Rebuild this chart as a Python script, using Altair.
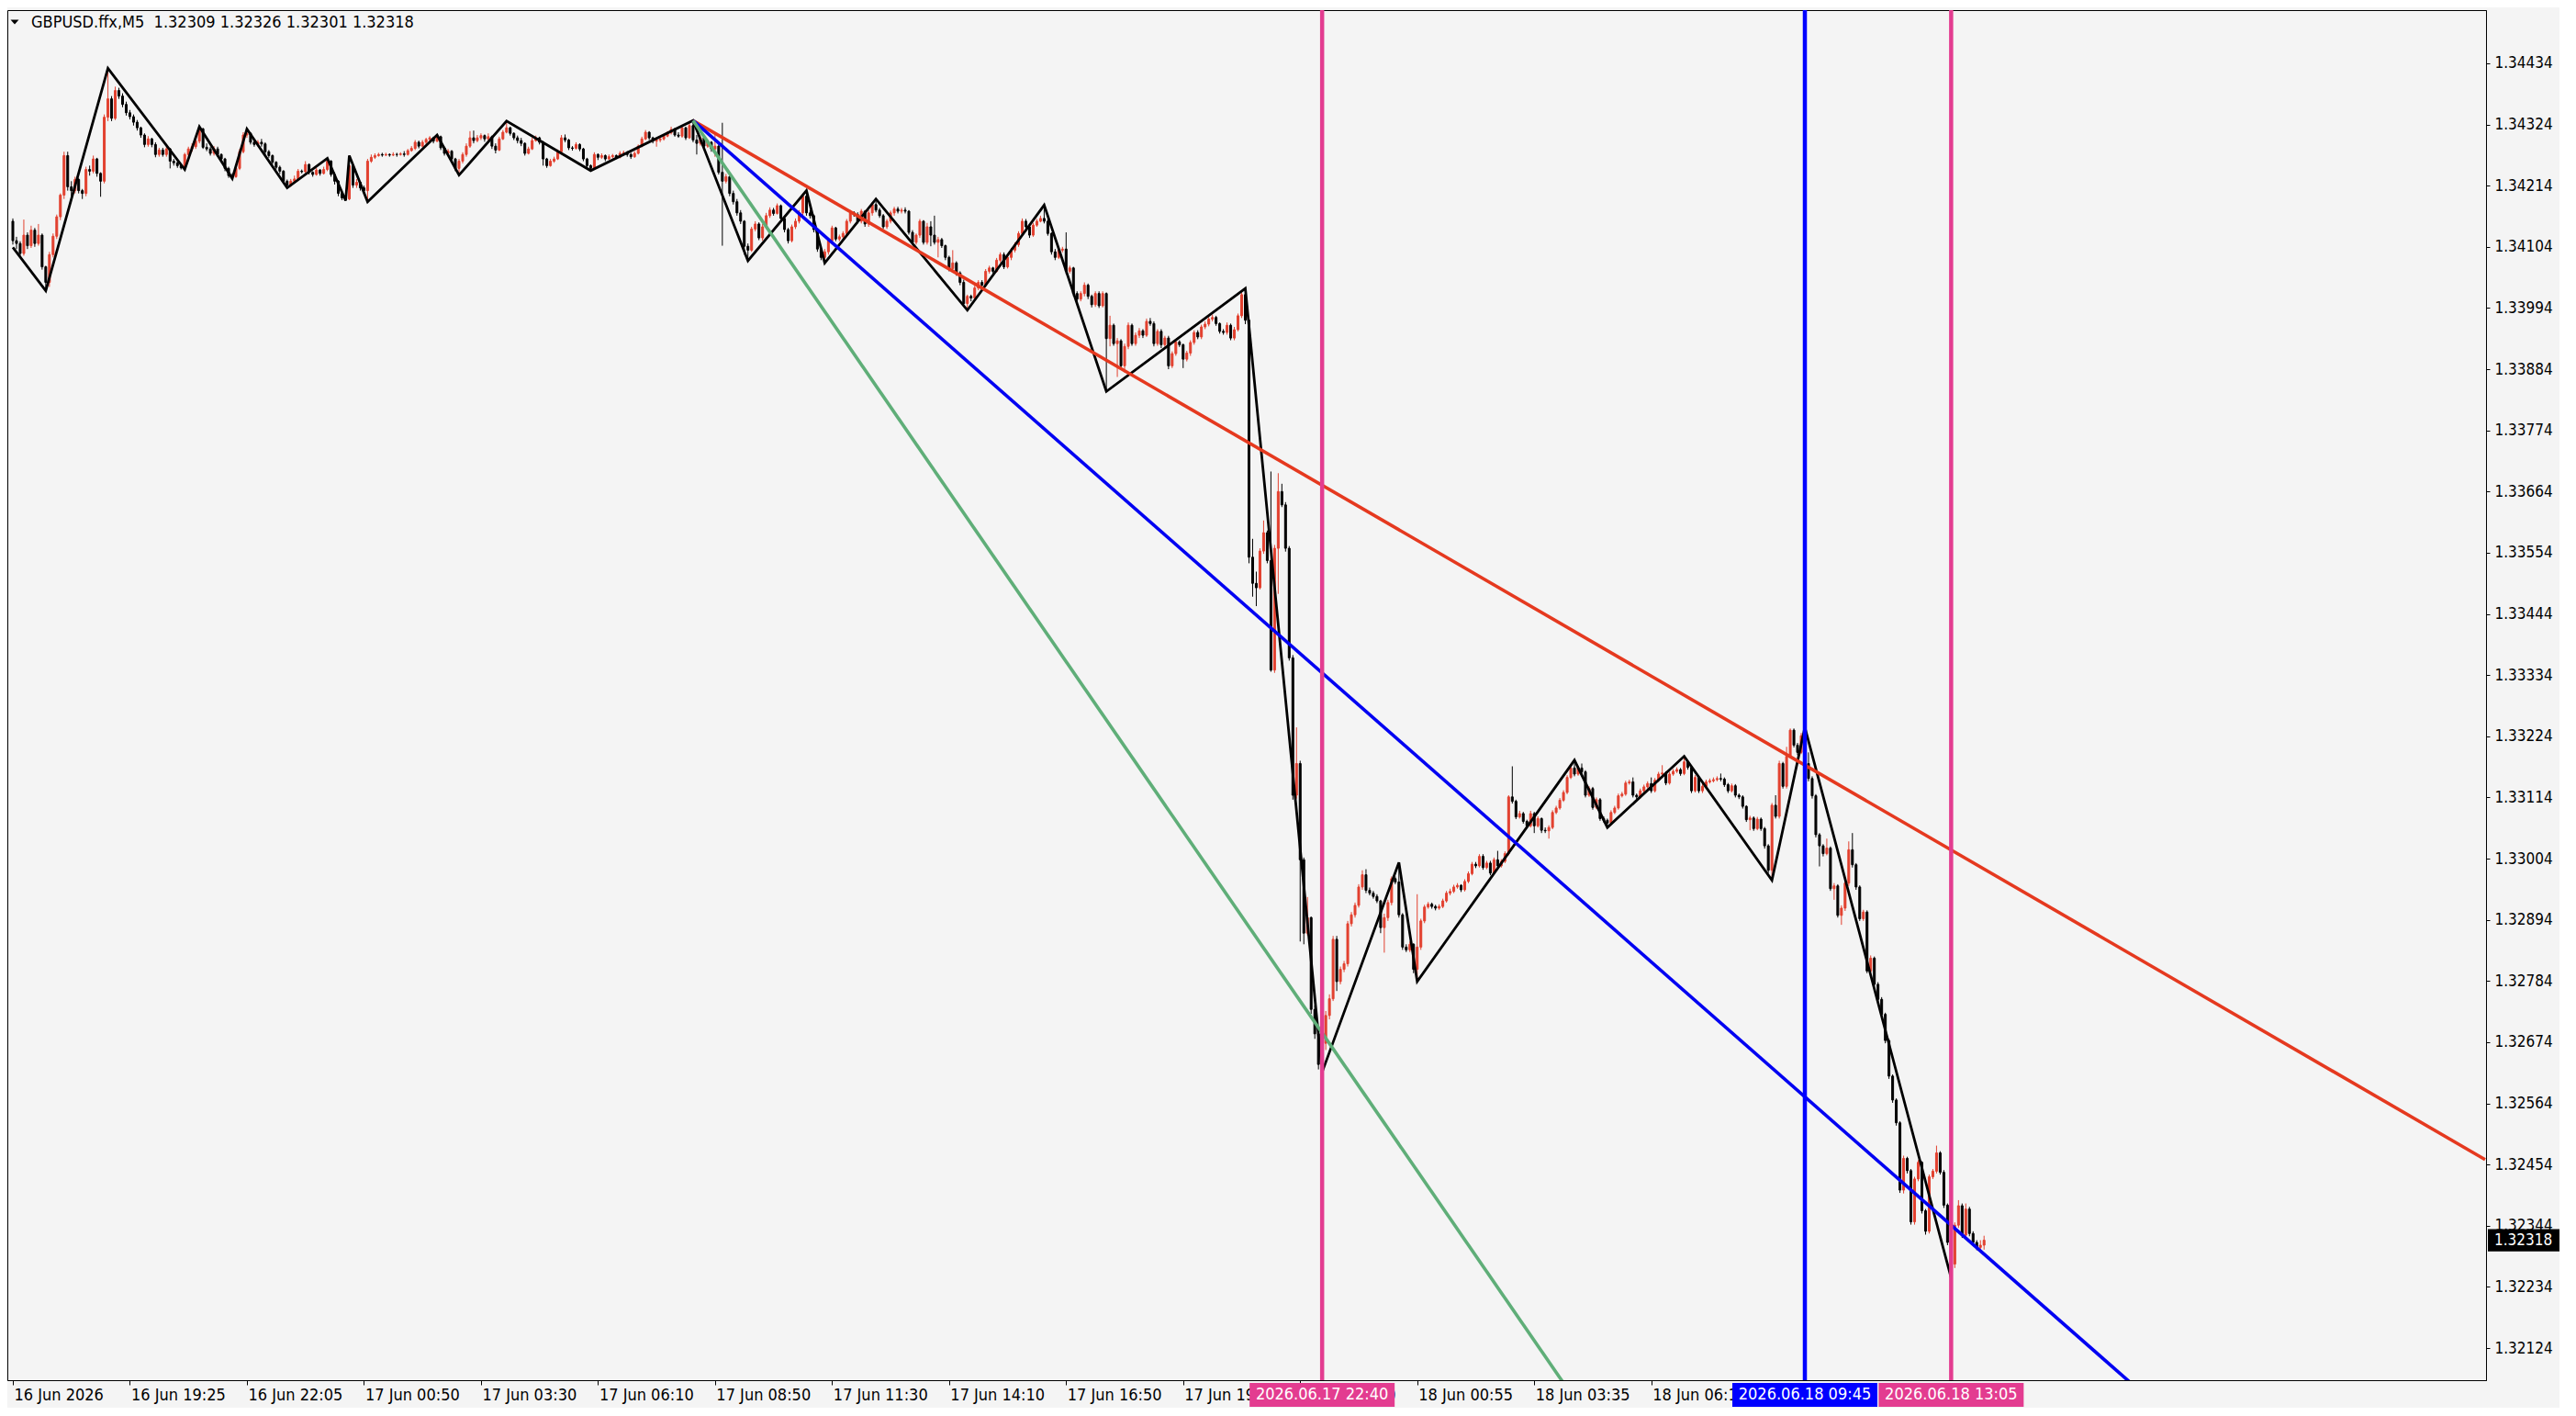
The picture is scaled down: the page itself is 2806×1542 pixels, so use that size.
import altair as alt
import pandas as pd

SYMBOL = "GBPUSD.ffx,M5"
BASE = 1.32000
POINT = 0.00001

FIRST_OPEN = 2150
CLOSES = [
2115,2110,2092,2125,2106,2134,2110,2125,2068,2040,
2090,2123,2158,2197,2268,2212,2205,2225,2205,2200,
2243,2240,2262,2236,2222,2337,2370,2335,2385,2375,
2360,2345,2338,2328,2318,2305,2288,2298,2288,2270,
2278,2270,2280,2258,2255,2250,2246,2270,2280,2284,
2294,2316,2283,2280,2272,2280,2270,2262,2245,2232,
2230,2245,2275,2305,2308,2292,2288,2292,2289,2275,
2268,2256,2247,2240,2222,2215,2222,2226,2240,2239,
2252,2238,2234,2242,2236,2243,2258,2234,2222,2200,
2192,2190,2250,2215,2220,2210,2205,2258,2265,2268,
2270,2269,2270,2269,2270,2270,2271,2270,2277,2281,
2292,2285,2292,2297,2300,2294,2302,2282,2272,2276,
2262,2245,2258,2270,2285,2300,2295,2300,2304,2298,
2302,2285,2278,2298,2310,2318,2308,2300,2295,2290,
2272,2280,2295,2300,2292,2262,2250,2258,2262,2275,
2300,2296,2282,2281,2288,2280,2262,2250,2245,2270,
2265,2268,2262,2266,2268,2265,2272,2273,2270,2266,
2272,2285,2298,2310,2300,2294,2296,2298,2303,2309,
2315,2305,2303,2318,2300,2322,2296,2290,2300,2285,
2292,2280,2285,2238,2222,2230,2200,2185,2165,2150,
2105,2098,2136,2145,2120,2140,2160,2170,2164,2178,
2155,2135,2115,2140,2150,2165,2195,2165,2160,2135,
2100,2085,2095,2115,2138,2118,2122,2128,2150,2165,
2162,2150,2168,2145,2165,2180,2170,2160,2140,2150,
2165,2172,2168,2170,2168,2130,2112,2125,2150,2112,
2140,2125,2112,2117,2106,2085,2065,2075,2057,2040,
2002,2015,2012,2030,2040,2035,2060,2066,2060,2080,
2090,2068,2085,2098,2108,2128,2150,2140,2125,2143,
2150,2155,2150,2128,2095,2085,2098,2100,2060,2066,
2020,2010,2020,2035,2015,2000,2020,1998,2020,1939,
1963,1930,1935,1890,1925,1963,1930,1945,1953,1945,
1970,1966,1930,1952,1928,1940,1890,1912,1933,1928,
1902,1913,1932,1950,1942,1960,1965,1974,1977,1966,
1952,1950,1963,1940,1955,1980,2018,1972,1546,1499,
1491,1557,1590,1540,1343,1562,1664,1640,1562,1365,
1118,1175,1002,870,898,733,689,634,672,722,
752,859,783,805,815,887,903,920,953,975,
947,942,936,928,880,898,925,968,962,903,
845,840,850,805,845,892,917,922,918,915,
918,928,942,945,953,956,948,963,977,994,
991,1008,988,996,978,1002,991,999,1013,1115,
1107,1079,1085,1071,1063,1085,1063,1076,1055,1054,
1060,1087,1095,1109,1123,1150,1167,1156,1167,1160,
1118,1130,1096,1110,1076,1073,1068,1087,1095,1117,
1120,1140,1142,1118,1115,1126,1133,1139,1126,1145,
1156,1158,1140,1156,1161,1164,1157,1178,1168,1126,
1150,1126,1134,1142,1144,1146,1148,1147,1137,1126,
1135,1118,1115,1098,1074,1077,1058,1075,1058,1027,
983,1100,1080,1175,1134,1188,1235,1208,1195,1225,
1175,1148,1117,1047,1027,1013,1023,950,955,902,
915,960,1020,993,953,896,908,802,825,778,
751,724,677,613,570,529,408,465,443,351,
428,458,371,334,432,442,475,440,381,314,
275,345,380,327,374,330,314,305,309,318,
]
HIGHS = [
2155,2122,2114,2153,2130,2142,2138,2145,2128,2070,
2095,2128,2162,2200,2275,2275,2222,2230,2228,2208,
2248,2250,2268,2264,2238,2342,2425,2375,2392,2390,
2380,2365,2350,2342,2332,2320,2308,2303,2300,2292,
2282,2282,2284,2282,2262,2258,2252,2273,2284,2290,
2298,2320,2318,2290,2284,2285,2284,2272,2264,2248,
2236,2250,2280,2310,2316,2310,2296,2296,2298,2292,
2278,2270,2258,2250,2242,2225,2226,2232,2244,2243,
2258,2254,2240,2246,2244,2248,2263,2260,2238,2224,
2204,2198,2268,2252,2226,2222,2214,2262,2270,2272,
2273,2273,2273,2272,2274,2273,2274,2276,2280,2285,
2296,2295,2296,2300,2303,2302,2305,2304,2284,2280,
2278,2264,2262,2274,2290,2312,2313,2305,2308,2306,
2308,2304,2290,2302,2314,2330,2320,2310,2304,2300,
2292,2284,2300,2304,2302,2294,2264,2262,2266,2279,
2305,2306,2298,2285,2292,2290,2282,2264,2252,2274,
2272,2272,2270,2270,2271,2270,2276,2277,2276,2273,
2276,2288,2302,2314,2312,2302,2299,2302,2306,2312,
2320,2318,2310,2322,2320,2326,2331,2305,2304,2302,
2296,2294,2310,2288,2327,2235,2232,2205,2190,2170,
2152,2110,2140,2150,2148,2145,2165,2175,2174,2182,
2180,2158,2138,2144,2155,2170,2200,2205,2170,2162,
2138,2104,2100,2120,2142,2140,2126,2132,2154,2170,
2168,2166,2172,2170,2170,2184,2190,2174,2163,2154,
2169,2176,2176,2174,2175,2170,2134,2128,2154,2152,
2147,2150,2160,2122,2120,2108,2088,2098,2078,2060,
2045,2018,2018,2034,2044,2044,2064,2070,2068,2084,
2094,2094,2090,2102,2112,2132,2155,2154,2144,2147,
2154,2160,2179,2154,2130,2100,2102,2104,2130,2070,
2068,2024,2024,2040,2038,2018,2024,2024,2024,2022,
1980,1966,1940,1938,1930,1968,1966,1950,1958,1956,
1975,1976,1970,1956,1956,1944,1944,1916,1938,1936,
1930,1917,1936,1954,1954,1964,1970,1978,1982,1980,
1968,1956,1968,1966,1960,1984,2022,2029,1975,1579,
1520,1562,1612,1594,1700,1568,1697,1678,1645,1566,
1370,1240,1180,1006,935,900,740,695,680,730,
760,865,865,810,820,892,908,925,958,983,
985,952,946,940,930,905,930,972,972,997,
906,850,855,852,940,896,921,926,925,921,
922,932,946,950,957,960,958,967,981,998,
998,1012,1012,1000,1000,1006,1018,1003,1017,1118,
1170,1110,1090,1088,1074,1090,1088,1080,1078,1060,
1064,1091,1099,1113,1127,1154,1171,1181,1171,1175,
1163,1134,1133,1114,1113,1080,1076,1091,1099,1121,
1124,1144,1146,1150,1121,1130,1137,1143,1150,1149,
1160,1172,1161,1160,1165,1168,1167,1188,1181,1171,
1154,1153,1138,1146,1148,1150,1152,1157,1150,1140,
1139,1138,1121,1118,1100,1081,1080,1079,1078,1061,
1030,1104,1118,1180,1178,1205,1238,1238,1212,1230,
1240,1195,1152,1120,1050,1030,1040,1026,960,958,
920,965,1035,1050,996,956,912,911,830,828,
782,755,727,680,616,573,532,470,468,446,
432,462,460,374,436,446,488,478,444,384,
318,350,390,384,384,378,334,318,318,326,
]
LOWS = [
2108,2100,2088,2088,2100,2102,2104,2106,2063,2025,
2032,2085,2118,2152,2190,2205,2195,2200,2200,2190,
2195,2232,2236,2230,2194,2218,2330,2330,2332,2370,
2355,2340,2333,2322,2313,2300,2283,2284,2283,2265,
2266,2266,2266,2245,2250,2246,2243,2243,2266,2275,
2280,2290,2280,2276,2268,2268,2266,2258,2240,2228,
2227,2228,2242,2272,2300,2288,2284,2285,2284,2270,
2264,2252,2243,2235,2218,2210,2212,2220,2224,2236,
2236,2234,2230,2232,2232,2234,2240,2230,2216,2195,
2188,2187,2188,2210,2210,2205,2198,2185,2255,2262,
2266,2266,2267,2266,2267,2266,2268,2266,2268,2275,
2278,2281,2283,2288,2294,2290,2292,2278,2268,2268,
2258,2240,2233,2254,2266,2282,2290,2292,2296,2293,
2295,2280,2272,2276,2296,2308,2304,2296,2290,2285,
2268,2270,2278,2293,2288,2250,2246,2248,2255,2260,
2272,2292,2278,2277,2279,2276,2258,2246,2241,2243,
2260,2262,2258,2260,2263,2262,2263,2268,2266,2262,
2264,2270,2283,2296,2296,2290,2284,2292,2295,2301,
2306,2302,2300,2300,2296,2298,2292,2270,2286,2280,
2282,2275,2266,2234,2106,2218,2195,2180,2160,2145,
2090,2079,2095,2132,2116,2115,2136,2156,2160,2162,
2150,2130,2110,2112,2136,2146,2160,2160,2155,2130,
2095,2080,2075,2090,2112,2114,2114,2118,2124,2146,
2158,2146,2146,2140,2140,2160,2166,2156,2136,2136,
2146,2160,2164,2164,2164,2126,2108,2108,2120,2108,
2108,2105,2108,2085,2102,2080,2060,2062,2052,2035,
1998,1990,2006,2008,2026,2030,2032,2056,2056,2058,
2076,2064,2065,2080,2094,2104,2124,2136,2120,2122,
2140,2148,2146,2124,2090,2080,2082,2094,2055,2056,
2015,2005,2006,2015,2010,1995,1996,1994,1995,1844,
1925,1926,1870,1884,1878,1920,1926,1926,1940,1940,
1942,1962,1925,1926,1922,1924,1884,1886,1908,1924,
1886,1898,1908,1928,1938,1938,1956,1961,1970,1962,
1948,1946,1946,1936,1936,1952,1976,1965,1535,1475,
1458,1488,1552,1535,1340,1338,1480,1636,1556,1360,
1110,1112,855,850,866,725,680,625,620,660,
715,748,766,778,800,810,882,898,916,948,
942,938,932,924,870,835,892,920,958,898,
840,836,836,798,783,840,888,914,914,911,
912,915,925,938,942,950,944,945,960,974,
987,988,984,985,974,975,987,988,996,1010,
1103,1075,1076,1067,1059,1060,1050,1060,1050,1050,
1040,1057,1084,1092,1106,1120,1147,1152,1153,1156,
1114,1115,1092,1093,1072,1069,1060,1065,1084,1092,
1114,1117,1137,1114,1111,1112,1123,1130,1122,1123,
1142,1153,1136,1137,1153,1158,1153,1154,1164,1122,
1123,1122,1122,1131,1139,1141,1143,1143,1133,1122,
1123,1114,1111,1094,1070,1055,1054,1055,1054,1022,
978,965,1076,1076,1130,1130,1184,1204,1190,1192,
1170,1143,1112,1042,990,1008,1010,946,930,898,
885,910,955,988,948,892,892,798,798,774,
747,720,672,608,565,524,403,402,438,346,
346,424,366,328,330,428,438,436,376,309,
250,268,340,322,323,325,310,300,301,301,
]

# visible time labels (those fully covered by marker boxes in the reference are left out)
TIME_TICK_BARS = [0, 32, 64, 96, 128, 160, 192, 224, 256, 288, 320, 352, 384, 416, 448]
TIME_TICK_LABELS = ["16 Jun 2026", "16 Jun 19:25", "16 Jun 22:05", "17 Jun 00:50", "17 Jun 03:30",
                    "17 Jun 06:10", "17 Jun 08:50", "17 Jun 11:30", "17 Jun 14:10", "17 Jun 16:50",
                    "17 Jun 19:30", "17 Jun 22:10", "18 Jun 00:55", "18 Jun 03:35", "18 Jun 06:15"]

PRICE_TICKS = [1.32124, 1.32234, 1.32344, 1.32454, 1.32564, 1.32674, 1.32784, 1.32894, 1.33004,
               1.33114, 1.33224, 1.33334, 1.33444, 1.33554, 1.33664, 1.33774, 1.33884, 1.33994,
               1.34104, 1.34214, 1.34324, 1.34434]

ZIGZAG_BARS = [0, 9, 26, 47, 51, 60, 64, 75, 86, 91, 92, 97, 116, 122, 135, 158, 186, 201, 217, 222,
               236, 261, 282, 299, 337, 358, 379, 384, 427, 436, 457, 481, 490, 530]
ZIGZAG_PTS = [2103, 2025, 2425, 2243, 2320, 2227, 2316, 2210, 2263, 2187, 2268, 2185, 2305, 2233, 2330,
              2241, 2331, 2079, 2205, 2075, 2190, 1990, 2179, 1844, 2029, 620, 997, 783, 1181, 1060,
              1188, 965, 1240, 250]

TREND_NAMES = ["trend_red", "trend_blue", "trend_green"]
TREND_START_BAR = [186, 186, 186]
TREND_START_PTS = [2331, 2331, 2331]
TREND_END_BAR = [676, 676, 676]
TREND_END_PTS = [463, -498, -2342]

MARK_BARS = [358, 490, 530]
MARK_KINDS = ["mark_low", "mark_high", "mark_low"]
MARK_LABELS = ["2026.06.17 22:40", "2026.06.18 09:45", "2026.06.18 13:05"]

# ---------------- styling / layout ----------------
W, H = 2700, 1492
X_DOMAIN = [-0.25, 675.0]
Y_DOMAIN = [1.320663, 1.345296]
FONT = "DejaVu Sans Condensed, DejaVu Sans, sans-serif"
FS = 17
FS_TIME = 18
BG = "#F4F4F4"
UP = "#E2402F"
DOWN = "#000000"
PINK = "#E33C90"
BLUE = "#0000FF"
COLOR_DOMAIN = ["up", "down", "trend_red", "trend_blue", "trend_green", "mark_low", "mark_high"]
COLOR_RANGE = [UP, DOWN, "#E5391F", "#0000F2", "#5FAE78", PINK, BLUE]

assert len(CLOSES) == len(HIGHS) == len(LOWS)


def px(v):
    return round(BASE + v * POINT, 5)


n = len(CLOSES)
opens = [FIRST_OPEN] + CLOSES[:-1]
candles = pd.DataFrame({
    "bar": list(range(n)),
    "open": [px(v) for v in opens],
    "close": [px(v) for v in CLOSES],
    "high": [px(max(h, o, c)) for h, o, c in zip(HIGHS, opens, CLOSES)],
    "low": [px(min(l, o, c)) for l, o, c in zip(LOWS, opens, CLOSES)],
})
candles["kind"] = ["up" if c > o else "down" for o, c in zip(candles["open"], candles["close"])]

zz = pd.DataFrame({"bar": ZIGZAG_BARS, "price": [px(v) for v in ZIGZAG_PTS]})

tl_rows = []
for nm, b0, p0, b1, p1 in zip(TREND_NAMES, TREND_START_BAR, TREND_START_PTS, TREND_END_BAR, TREND_END_PTS):
    tl_rows.append({"kind": nm, "bar": b0, "price": px(p0)})
    tl_rows.append({"kind": nm, "bar": b1, "price": px(p1)})
tl = pd.DataFrame(tl_rows)

mk = pd.DataFrame({"bar": MARK_BARS, "kind": MARK_KINDS, "label": MARK_LABELS})

last_o, last_h, last_l, last_c = opens[-1], HIGHS[-1], LOWS[-1], CLOSES[-1]
last_df = pd.DataFrame({"price": [px(last_c)], "label": ["%.5f" % px(last_c)]})
title_df = pd.DataFrame({"label": [SYMBOL + "\u00a0\u00a0" + " ".join("%.5f" % px(v) for v in (last_o, last_h, last_l, last_c))]})

xs = alt.Scale(domain=X_DOMAIN, nice=False, zero=False)
ys = alt.Scale(domain=Y_DOMAIN, nice=False, zero=False)
cs = alt.Scale(domain=COLOR_DOMAIN, range=COLOR_RANGE)
label_expr = "[" + ",".join("'%s'" % s for s in TIME_TICK_LABELS) + "][round(datum.value / 32)]"

xaxis = alt.Axis(values=TIME_TICK_BARS, labelExpr=label_expr, orient="bottom", title=None, grid=False,
                 tickSize=5, tickColor="black", domainColor="black", labelAlign="left",
                 labelBaseline="middle", labelPadding=11, labelOffset=1, labelFont=FONT,
                 labelFontSize=FS_TIME, labelColor="black", labelOverlap=False, labelFlush=False,
                 labelBound=False)
yaxis = alt.Axis(values=PRICE_TICKS, format=".5f", orient="right", title=None, grid=False,
                 tickSize=4, tickColor="black", domainColor="black", labelAlign="left",
                 labelBaseline="middle", labelPadding=5, labelFont=FONT, labelFontSize=FS,
                 labelColor="black", labelOverlap=False, labelFlush=False, labelBound=False)


def X():
    return alt.X("bar:Q", scale=xs, axis=xaxis)


def Y(f):
    return alt.Y(f + ":Q", scale=ys, axis=yaxis)


def C():
    return alt.Color("kind:N", scale=cs, legend=None)


wicks = alt.Chart(candles).mark_rule(strokeWidth=1).encode(
    x=X(), y=Y("low"), y2=alt.Y2("high"), color=C())
bodies = alt.Chart(candles).mark_bar(size=2, strokeWidth=1).encode(
    x=X(), y=Y("open"), y2=alt.Y2("close"), color=C(),
    stroke=alt.Stroke("kind:N", scale=cs, legend=None))
zig = alt.Chart(zz).mark_line(color="black", strokeWidth=2.8).encode(
    x=X(), y=Y("price"), order="bar:Q")
trend = alt.Chart(tl).mark_line(strokeWidth=3.6, clip=True).encode(
    x=X(), y=Y("price"), detail="kind:N", order="bar:Q", color=C())
vrules = alt.Chart(mk).mark_rule(strokeWidth=4.5).encode(x=X(), color=C())

BOX = "M-1,-0.166H1V0.166H-1Z"
vboxes = alt.Chart(mk).mark_point(shape=BOX, size=158 * 158, filled=True, opacity=1, strokeWidth=0).encode(
    x=X(), y=alt.value(H + 16), color=C())
vtext = alt.Chart(mk).mark_text(font=FONT, fontSize=FS_TIME, color="white", align="center", baseline="middle").encode(
    x=X(), y=alt.value(H + 16), text="label:N")

PBOX = "M-1,-0.31H1V0.31H-1Z"
pbox = alt.Chart(last_df).mark_point(shape=PBOX, size=78 * 78, filled=True, opacity=1, color="black", strokeWidth=0).encode(
    x=alt.value(W + 41), y=Y("price"))
ptext = alt.Chart(last_df).mark_text(font=FONT, fontSize=FS, color="white", align="left", baseline="middle").encode(
    x=alt.value(W + 9), y=Y("price"), text="label:N")

TRI = "M-1,-0.55L1,-0.55L0,0.55Z"
tri = alt.Chart(title_df).mark_point(shape=TRI, size=81, filled=True, opacity=1, color="black", strokeWidth=0).encode(
    x=alt.value(8), y=alt.value(13))
ttext = alt.Chart(title_df).mark_text(font=FONT, fontSize=18, color="black", align="left", baseline="middle").encode(
    x=alt.value(26), y=alt.value(14), text="label:N")

chart = alt.layer(wicks, bodies, zig, trend, vrules, vboxes, vtext, pbox, ptext, tri, ttext).properties(
    width=W, height=H, background=BG,
    padding={"left": 0, "top": 0, "right": 0, "bottom": 0},
).configure_view(stroke="black", strokeWidth=1, fill=BG)

chart.save("out.html", embed_options={"renderer": "svg", "actions": False})
